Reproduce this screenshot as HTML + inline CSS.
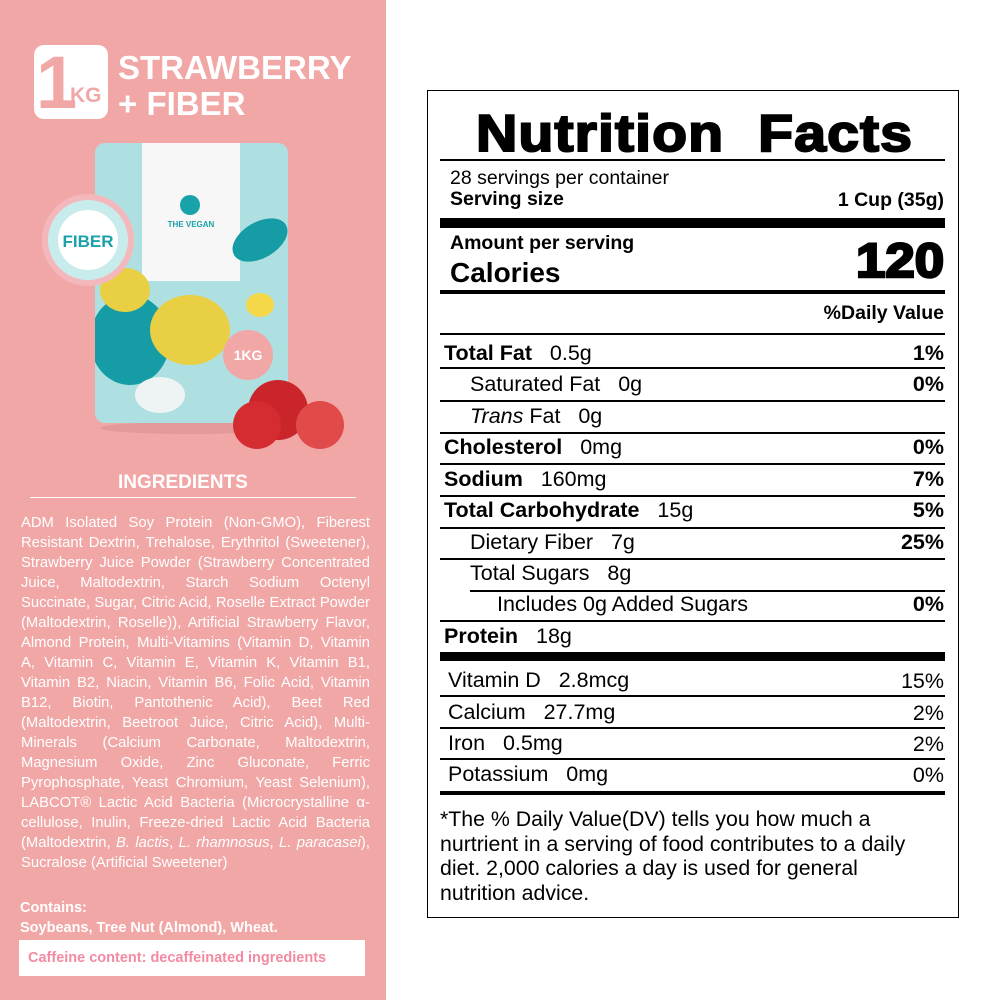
<!DOCTYPE html>
<html><head><meta charset="utf-8"><style>
*{margin:0;padding:0;box-sizing:border-box}
body{width:1000px;height:1000px;background:#fff;position:relative;overflow:hidden;font-family:"Liberation Sans",Arial,sans-serif}
.l{position:absolute;left:0;top:0;width:386px;height:1000px;background:#f2a7a7}
.a{position:absolute;white-space:nowrap}
.r{position:absolute;left:440px;width:505px;background:#000}
.t{position:absolute;font-size:21.5px;color:#000;white-space:nowrap;line-height:1}
.p{position:absolute;right:56px;font-size:21.5px;white-space:nowrap;line-height:1}
b{font-weight:bold}
.ing{position:absolute;left:21px;top:513px;width:349px;color:#fff;font-size:14.8px;line-height:20px;text-align:justify}
</style></head><body>
<div class="l"></div>
<!-- header -->
<div class="a" style="left:34px;top:45px;width:74px;height:74px;background:#fff;border-radius:10px"></div>
<div class="a" style="left:36px;top:45px;font-size:74px;font-weight:bold;color:#f2a7a7;line-height:76px;letter-spacing:-4px">1</div>
<div class="a" style="left:70px;top:84px;font-size:21px;font-weight:bold;color:#f2a7a7">KG</div>
<div class="a" style="left:118px;top:50px;font-size:33px;font-weight:bold;color:#fff;line-height:36px">STRAWBERRY<br>+ FIBER</div>
<!-- package -->
<svg class="a" style="left:0;top:0" width="386" height="470">
<defs><clipPath id="c"><rect x="95" y="143" width="193" height="280" rx="10"/></clipPath></defs>
<ellipse cx="190" cy="428" rx="90" ry="6" fill="#d89090" opacity=".6"/>
<rect x="95" y="143" width="193" height="280" rx="10" fill="#aee0e2"/>
<g clip-path="url(#c)">
<rect x="142" y="143" width="98" height="138" fill="#f7f7f7"/>
<ellipse cx="130" cy="340" rx="40" ry="45" fill="#159ca5"/>
<ellipse cx="190" cy="330" rx="40" ry="35" fill="#e9cf44"/>
<ellipse cx="125" cy="290" rx="25" ry="22" fill="#e9cf44"/>
<ellipse cx="260" cy="240" rx="30" ry="18" fill="#159ca5" transform="rotate(-30 260 240)"/>
<ellipse cx="260" cy="305" rx="14" ry="12" fill="#f5d84a"/>
<ellipse cx="160" cy="395" rx="25" ry="18" fill="#eef4f4"/>
</g>
<circle cx="190" cy="205" r="10" fill="#1aa2ab"/>
<text x="191" y="227" font-size="8" font-weight="bold" fill="#1aa2ab" text-anchor="middle" font-family="Liberation Sans">THE VEGAN</text>
<circle cx="88" cy="240" r="46" fill="#f4b8bc"/><circle cx="88" cy="240" r="40" fill="#c8ecec"/><circle cx="88" cy="240" r="30" fill="#fff"/>
<text x="88" y="247" font-size="17" font-weight="bold" fill="#1aa2ab" text-anchor="middle" font-family="Liberation Sans">FIBER</text>
<circle cx="248" cy="355" r="25" fill="#f2a7a7"/>
<text x="248" y="360" font-size="14" font-weight="bold" fill="#fff" text-anchor="middle" font-family="Liberation Sans">1KG</text>
<circle cx="278" cy="410" r="30" fill="#c9252b"/><circle cx="257" cy="425" r="24" fill="#d42c30"/><circle cx="320" cy="425" r="24" fill="#e04a48"/>
</svg>
<div class="a" style="left:118px;top:472px;font-size:19px;font-weight:bold;color:#fff">INGREDIENTS</div>
<div class="a" style="left:30px;top:497px;width:326px;height:1px;background:#fff"></div>
<div class="ing">ADM Isolated Soy Protein (Non-GMO), Fiberest Resistant Dextrin, Trehalose, Erythritol (Sweetener), Strawberry Juice Powder (Strawberry Concentrated Juice, Maltodextrin, Starch Sodium Octenyl Succinate, Sugar, Citric Acid, Roselle Extract Powder (Maltodextrin, Roselle)), Artificial Strawberry Flavor, Almond Protein, Multi-Vitamins (Vitamin D, Vitamin A, Vitamin C, Vitamin E, Vitamin K, Vitamin B1, Vitamin B2, Niacin, Vitamin B6, Folic Acid, Vitamin B12, Biotin, Pantothenic Acid), Beet Red (Maltodextrin, Beetroot Juice, Citric Acid), Multi-Minerals (Calcium Carbonate, Maltodextrin, Magnesium Oxide, Zinc Gluconate, Ferric Pyrophosphate, Yeast Chromium, Yeast Selenium), LABCOT® Lactic Acid Bacteria (Microcrystalline α-cellulose, Inulin, Freeze-dried Lactic Acid Bacteria (Maltodextrin, <i>B. lactis</i>, <i>L. rhamnosus</i>, <i>L. paracasei</i>), Sucralose (Artificial Sweetener)</div>
<div class="a" style="left:20px;top:898px;font-size:14.5px;font-weight:bold;color:#fff;line-height:20px">Contains:<br>Soybeans, Tree Nut (Almond), Wheat.</div>
<div class="a" style="left:19px;top:940px;width:346px;height:36px;background:#fff"></div>
<div class="a" style="left:28px;top:950px;font-size:14.5px;font-weight:bold;color:#f38aa2">Caffeine content: decaffeinated ingredients</div>
<!-- nutrition -->
<div class="a" style="left:427px;top:90px;width:532px;height:828px;border:1.5px solid #000"></div>
<div class="a" style="left:476px;top:104px;font-size:52px;font-weight:bold;-webkit-text-stroke:2px #000;letter-spacing:1px;line-height:60px;transform:scaleX(1.1);transform-origin:left">Nutrition&nbsp; Facts</div>
<div class="r" style="top:159px;height:2px"></div>
<div class="t" style="left:450px;top:169px;font-size:19.5px">28 servings per container</div>
<div class="t" style="left:450px;top:190px;font-size:19.5px;font-weight:bold">Serving size</div>
<div class="p" style="top:191px;font-size:19.5px;font-weight:bold">1 Cup (35g)</div>
<div class="r" style="top:218px;height:10px"></div>
<div class="t" style="left:450px;top:234px;font-size:19.5px;font-weight:bold">Amount per serving</div>
<div class="t" style="left:450px;top:259px;font-size:28px;font-weight:bold">Calories</div>
<div class="p" style="top:238px;font-size:48px;font-weight:bold;-webkit-text-stroke:2.5px #000;transform:scaleX(1.1);transform-origin:right">120</div>
<div class="r" style="top:290px;height:4px"></div>
<div class="p" style="top:304px;font-size:19.5px;font-weight:bold">%Daily Value</div>
<div class="r" style="top:333px;height:1.5px"></div>
<div class="t" style="left:444px;top:343px"><b>Total Fat</b>&nbsp;&nbsp; 0.5g</div><div class="p" style="top:343px"><b>1%</b></div>
<div class="r" style="top:367px;height:1.5px"></div>
<div class="t" style="left:470px;top:374px">Saturated Fat&nbsp;&nbsp; 0g</div><div class="p" style="top:374px"><b>0%</b></div>
<div class="r" style="top:400px;height:1.5px"></div>
<div class="t" style="left:470px;top:406px"><i>Trans</i> Fat&nbsp;&nbsp; 0g</div>
<div class="r" style="top:432px;height:1.5px"></div>
<div class="t" style="left:444px;top:437px"><b>Cholesterol</b>&nbsp;&nbsp; 0mg</div><div class="p" style="top:437px"><b>0%</b></div>
<div class="r" style="top:463px;height:1.5px"></div>
<div class="t" style="left:444px;top:469px"><b>Sodium</b>&nbsp;&nbsp; 160mg</div><div class="p" style="top:469px"><b>7%</b></div>
<div class="r" style="top:495px;height:1.5px"></div>
<div class="t" style="left:444px;top:500px"><b>Total Carbohydrate</b>&nbsp;&nbsp; 15g</div><div class="p" style="top:500px"><b>5%</b></div>
<div class="r" style="top:527px;height:1.5px"></div>
<div class="t" style="left:470px;top:532px">Dietary Fiber&nbsp;&nbsp; 7g</div><div class="p" style="top:532px"><b>25%</b></div>
<div class="r" style="top:558px;height:1.5px"></div>
<div class="t" style="left:470px;top:563px">Total Sugars&nbsp;&nbsp; 8g</div>
<div class="r" style="top:590px;left:470px;width:475px;height:1.5px"></div>
<div class="t" style="left:497px;top:594px">Includes 0g Added Sugars</div><div class="p" style="top:594px"><b>0%</b></div>
<div class="r" style="top:620px;height:1.5px"></div>
<div class="t" style="left:444px;top:626px"><b>Protein</b>&nbsp;&nbsp; 18g</div>
<div class="r" style="top:652px;height:9px"></div>
<div class="t" style="left:448px;top:670px">Vitamin D&nbsp;&nbsp; 2.8mcg</div><div class="p" style="top:671px">15%</div>
<div class="r" style="top:695px;height:1.5px"></div>
<div class="t" style="left:448px;top:702px">Calcium&nbsp;&nbsp; 27.7mg</div><div class="p" style="top:703px">2%</div>
<div class="r" style="top:727px;height:1.5px"></div>
<div class="t" style="left:448px;top:733px">Iron&nbsp;&nbsp; 0.5mg</div><div class="p" style="top:734px">2%</div>
<div class="r" style="top:758px;height:1.5px"></div>
<div class="t" style="left:448px;top:764px">Potassium&nbsp;&nbsp; 0mg</div><div class="p" style="top:765px">0%</div>
<div class="r" style="top:791px;height:4px"></div>
<div class="a" style="left:440px;top:807px;font-size:21.3px;line-height:24.5px;white-space:normal;width:482px">*The % Daily Value(DV) tells you how much a nurtrient in a serving of food contributes to a daily diet. 2,000 calories a day is used for general nutrition advice.</div>
</body></html>
